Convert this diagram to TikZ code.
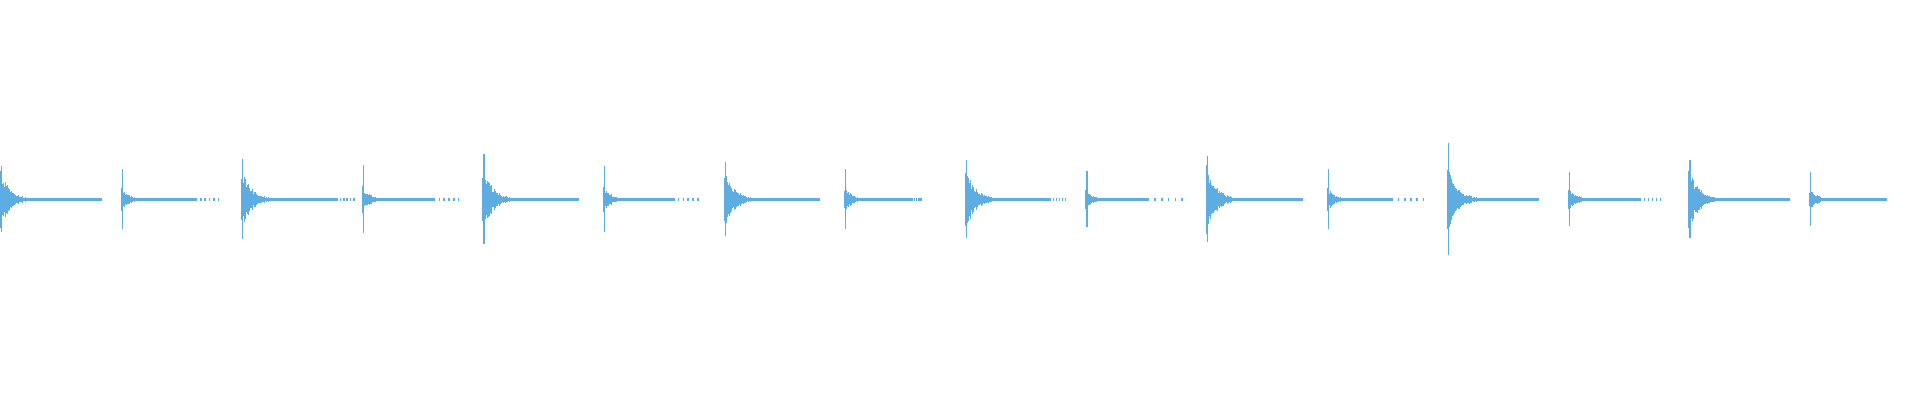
\documentclass[tikz,border=0pt]{standalone}
\definecolor{wave}{RGB}{93,173,226}
\begin{document}
\begin{tikzpicture}[x=0.5pt,y=-0.5pt]
\useasboundingbox[fill=white] (0,0) rectangle (1920,400);
\pgfmathsetseed{7}
% x / spike amp / body amp / decay / solid tail / dotted tail end
\foreach \x/\S/\B/\D/\T/\E in {
  0/33/30/10/100/100,
  120.6/30/13/8/75/97,
  241.2/40/34/10/95/112,
  361.8/34/14/8/72/96,
  482.4/45/36/10/88/95,
  603/33/14/8/70/94,
  723.6/37/32/10/88/95,
  844.2/30/13/8/65/76,
  964.8/39/34/10/85/100,
  1085.4/28/12/8/62/96,
  1206/43/36/10/95/95,
  1326.6/30/13/8/65/96,
  1447.2/56/38/10/90/90,
  1567.8/27/12/8/72/92,
  1688.4/39/34/10/100/100,
  1809/27/12/8/72/76}{
  \fill[wave] (\x+1,199.5-\S) rectangle (\x+2.2,199.5+\S);
  \foreach \i in {0,...,44}{
    \pgfmathsetmacro\a{max(1.6,\B*exp(-\i/\D)*(0.55+0.45*rnd))}
    \fill[wave] (\x+\i,199.5-\a) rectangle (\x+\i+1.05,199.5+\a);
  }
  \fill[wave] (\x+45,198.2) rectangle (\x+\T,200.8);
  \foreach \k in {0,...,5}{
    \pgfmathsetmacro\d{\T+(\E-\T)*\k/5}
    \fill[wave] (\x+\d,198.2) rectangle (\x+\d+1.5,200.8);
  }
}
\end{tikzpicture}
\end{document}
